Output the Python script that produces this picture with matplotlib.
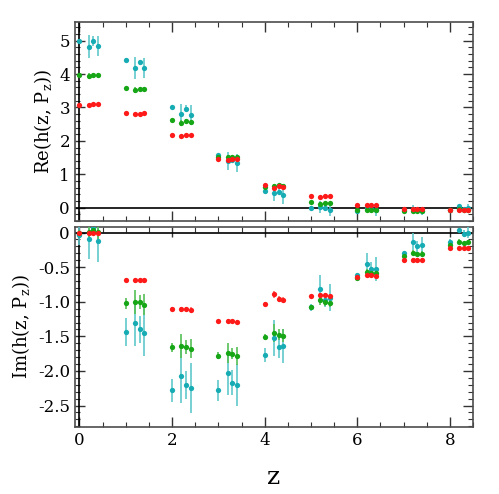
import matplotlib.pyplot as plt
from matplotlib.ticker import MultipleLocator, FuncFormatter

plt.rcParams['font.family'] = 'DejaVu Serif'
plt.rcParams['mathtext.fontset'] = 'dejavuserif'
plt.rcParams['axes.unicode_minus'] = False

z = [0, 0.2, 0.3, 0.4, 1, 1.2, 1.3, 1.4, 2, 2.2, 2.3, 2.4, 3, 3.2, 3.3, 3.4,
     4, 4.2, 4.3, 4.4, 5, 5.2, 5.3, 5.4, 6, 6.2, 6.3, 6.4, 7, 7.2, 7.3, 7.4,
     8, 8.2, 8.3, 8.4]

# real part
re_red = [3.07, 3.08, 3.09, 3.09, 2.82, 2.80, 2.81, 2.82, 2.17, 2.14, 2.17, 2.17,
          1.45, 1.44, 1.45, 1.45, 0.69, 0.59, 0.64, 0.63, 0.34, 0.32, 0.34, 0.34,
          0.08, 0.08, 0.08, 0.07, -0.03, -0.05, -0.05, -0.05, -0.07, -0.08, -0.08, -0.08]
re_red_err = [0.02, 0.03, 0.02, 0.02, 0.02, 0.03, 0.02, 0.02, 0.02, 0.03, 0.02, 0.02,
              0.02, 0.03, 0.02, 0.02, 0.02, 0.03, 0.02, 0.02, 0.02, 0.02, 0.02, 0.02,
              0.01, 0.02, 0.01, 0.01, 0.01, 0.02, 0.01, 0.01, 0.01, 0.01, 0.01, 0.01]
re_green = [3.98, 3.94, 3.98, 3.96, 3.57, 3.52, 3.56, 3.54, 2.62, 2.54, 2.60, 2.56,
            1.52, 1.51, 1.53, 1.52, 0.62, 0.66, 0.67, 0.66, 0.16, 0.12, 0.14, 0.13,
            -0.06, -0.08, -0.07, -0.08, -0.10, -0.09, -0.10, -0.09, -0.06, -0.05, -0.06, -0.06]
re_green_err = [0.03, 0.10, 0.05, 0.07, 0.03, 0.08, 0.05, 0.06, 0.03, 0.08, 0.05, 0.07,
                0.03, 0.07, 0.04, 0.06, 0.03, 0.06, 0.04, 0.05, 0.02, 0.05, 0.03, 0.05,
                0.02, 0.04, 0.03, 0.04, 0.02, 0.03, 0.02, 0.03, 0.02, 0.03, 0.02, 0.03]
re_cyan = [5.00, 4.82, 4.98, 4.83, 4.41, 4.19, 4.35, 4.17, 3.02, 2.81, 2.96, 2.77,
           1.57, 1.39, 1.44, 1.34, 0.50, 0.44, 0.48, 0.37, -0.01, 0.02, -0.01, -0.08,
           -0.11, -0.01, -0.04, -0.07, -0.06, -0.03, -0.06, -0.11, -0.07, 0.04, -0.04, 0.00]
re_cyan_err = [0.05, 0.35, 0.15, 0.30, 0.06, 0.33, 0.08, 0.30, 0.05, 0.29, 0.10, 0.29,
               0.04, 0.27, 0.08, 0.27, 0.05, 0.25, 0.08, 0.25, 0.05, 0.18, 0.08, 0.18,
               0.03, 0.10, 0.08, 0.18, 0.03, 0.10, 0.08, 0.10, 0.03, 0.05, 0.05, 0.10]

# imaginary part
im_red = [0.00, -0.01, 0.00, -0.01, -0.68, -0.69, -0.68, -0.69, -1.11, -1.11, -1.11, -1.12,
          -1.28, -1.28, -1.28, -1.29, -1.03, -0.89, -0.96, -0.97, -0.92, -0.90, -0.90, -0.92,
          -0.64, -0.62, -0.62, -0.63, -0.40, -0.39, -0.39, -0.39, -0.23, -0.22, -0.22, -0.22]
im_red_err = [0.02, 0.04, 0.03, 0.04, 0.03, 0.04, 0.03, 0.04, 0.03, 0.04, 0.03, 0.04,
              0.02, 0.03, 0.02, 0.03, 0.03, 0.05, 0.04, 0.04, 0.02, 0.03, 0.02, 0.03,
              0.02, 0.02, 0.02, 0.02, 0.02, 0.02, 0.02, 0.02, 0.01, 0.01, 0.01, 0.01]
im_green = [-0.01, 0.01, 0.04, 0.01, -1.02, -1.00, -1.00, -1.04, -1.66, -1.64, -1.65, -1.68,
            -1.78, -1.74, -1.75, -1.78, -1.51, -1.45, -1.48, -1.49, -1.07, -0.98, -1.01, -1.02,
            -0.65, -0.57, -0.58, -0.58, -0.34, -0.29, -0.31, -0.31, -0.18, -0.13, -0.15, -0.14]
im_green_err = [0.05, 0.08, 0.05, 0.10, 0.08, 0.17, 0.10, 0.15, 0.07, 0.17, 0.10, 0.14,
                0.05, 0.15, 0.08, 0.13, 0.05, 0.13, 0.08, 0.09, 0.03, 0.06, 0.05, 0.06,
                0.02, 0.05, 0.04, 0.05, 0.02, 0.04, 0.03, 0.04, 0.02, 0.03, 0.02, 0.03]
im_cyan = [-0.03, -0.10, 0.06, -0.12, -1.44, -1.31, -1.40, -1.45, -2.28, -2.08, -2.20, -2.25,
           -2.28, -2.03, -2.17, -2.20, -1.77, -1.53, -1.66, -1.64, -1.08, -0.81, -0.98, -0.94,
           -0.62, -0.46, -0.53, -0.53, -0.30, -0.13, -0.20, -0.18, -0.13, 0.04, -0.02, 0.00]
im_cyan_err = [0.15, 0.28, 0.10, 0.30, 0.20, 0.33, 0.20, 0.34, 0.17, 0.38, 0.20, 0.36,
               0.15, 0.32, 0.18, 0.30, 0.10, 0.26, 0.16, 0.24, 0.05, 0.19, 0.10, 0.20,
               0.03, 0.16, 0.10, 0.17, 0.03, 0.12, 0.08, 0.12, 0.03, 0.03, 0.05, 0.08]

c_red, c_green, c_cyan = '#ff1a1a', '#16a616', '#17acb4'
e_red, e_green, e_cyan = '#ff7070', '#55c055', '#60c8cc'

fig = plt.figure(figsize=(4.99, 4.94), dpi=100)
ax1 = fig.add_axes([0.150, 0.5526, 0.798, 0.4029])
ax2 = fig.add_axes([0.150, 0.1356, 0.798, 0.4049], sharex=ax1)


def draw(ax, series):
    for y, err, c, ec in series:
        ax.errorbar(z, y, yerr=err, fmt='o', ms=3.8, color=c, ecolor=ec,
                    elinewidth=1.2, capsize=1.8, capthick=1.0, mew=0, zorder=3)
    ax.axhline(0, color='k', lw=1.2, zorder=2)
    ax.axvline(0, color='k', lw=1.2, zorder=2)
    ax.tick_params(which='both', direction='in', top=True, right=True,
                   labelsize=12, color='0.2')
    ax.tick_params(which='major', length=7, width=1.0)
    ax.tick_params(which='minor', length=3.5, width=0.8)
    for s in ax.spines.values():
        s.set_color('0.3')
        s.set_linewidth(1.2)


draw(ax1, [(re_cyan, re_cyan_err, c_cyan, e_cyan),
           (re_green, re_green_err, c_green, e_green),
           (re_red, re_red_err, c_red, e_red)])
draw(ax2, [(im_cyan, im_cyan_err, c_cyan, e_cyan),
           (im_green, im_green_err, c_green, e_green),
           (im_red, im_red_err, c_red, e_red)])

ax1.set_xlim(-0.1, 8.5)
ax1.xaxis.set_major_locator(MultipleLocator(2))
ax1.xaxis.set_minor_locator(MultipleLocator(0.5))
ax1.set_ylim(-0.4, 5.56)
ax1.yaxis.set_major_locator(MultipleLocator(1))
ax1.yaxis.set_minor_locator(MultipleLocator(0.2))
ax1.tick_params(labelbottom=False)
ax1.set_ylabel(r'Re(h(z, P$_{\rm z}$))', fontsize=13)

ax2.set_ylim(-2.81, 0.08)
ax2.yaxis.set_major_locator(MultipleLocator(0.5))
ax2.yaxis.set_minor_locator(MultipleLocator(0.1))
ax2.yaxis.set_major_formatter(FuncFormatter(lambda v, p: '0' if abs(v) < 1e-9 else f'{v:.1f}'))
ax2.set_ylabel(r'Im(h(z, P$_{\rm z}$))', fontsize=13)
ax2.set_xlabel('z', fontsize=18, labelpad=12)

fig.savefig('out.png', dpi=100)
